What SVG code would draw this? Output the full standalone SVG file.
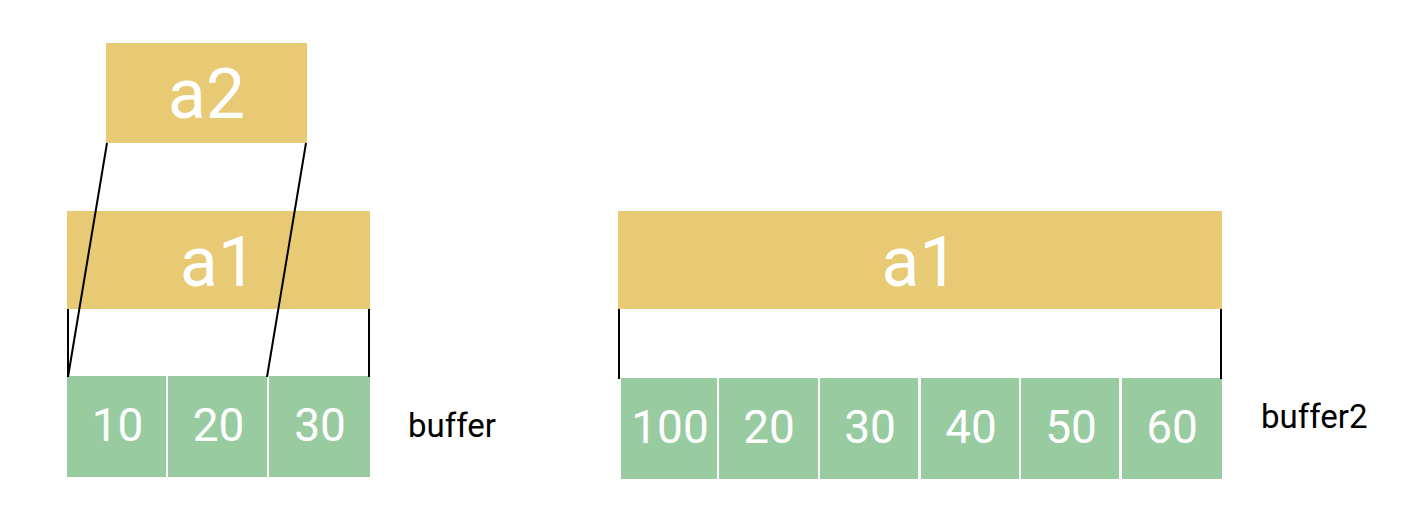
<svg xmlns="http://www.w3.org/2000/svg" width="1426" height="510" viewBox="0 0 1426 510">
<style>
.y{fill:#E8C974}
.g{fill:#98CBA0}
.t{font-family:Roboto,"Liberation Sans",sans-serif;fill:#fff;text-anchor:middle}
.big{font-size:70px}
.num{font-size:46px}
.lbl{font-family:Roboto,"Liberation Sans",sans-serif;fill:#000;font-size:33px}
.ln{stroke:#000;stroke-width:2;fill:none}
</style>
<rect width="1426" height="510" fill="#fff"/>
<g id="a2"><rect class="y" x="106" y="43" width="201" height="100"/><text class="t big" x="206.5" y="118">a2</text></g>
<g id="a1-left"><rect class="y" x="67" y="211" width="303" height="98"/><text class="t big" x="218.5" y="286">a1</text></g>
<g id="buffer">
<rect class="g" x="67" y="376" width="99" height="101"/><text class="t num" x="117.5" y="441">10</text>
<rect class="g" x="168" y="376" width="99" height="101"/><text class="t num" x="218.5" y="441">20</text>
<rect class="g" x="269" y="376" width="101" height="101"/><text class="t num" x="320" y="441">30</text>
</g>
<g id="buffer-label"><text class="lbl" x="408" y="437">buffer</text></g>
<g id="a1-right"><rect class="y" x="618" y="211" width="604" height="98"/><text class="t big" x="920" y="286">a1</text></g>
<g id="buffer2">
<rect class="g" x="621" y="378" width="96" height="101"/><text class="t num" x="670" y="443">100</text>
<rect class="g" x="719" y="378" width="99" height="101"/><text class="t num" x="769" y="443">20</text>
<rect class="g" x="820" y="378" width="98" height="101"/><text class="t num" x="870" y="443">30</text>
<rect class="g" x="921" y="378" width="98" height="101"/><text class="t num" x="971" y="443">40</text>
<rect class="g" x="1021" y="378" width="98" height="101"/><text class="t num" x="1071" y="443">50</text>
<rect class="g" x="1122" y="378" width="100" height="101"/><text class="t num" x="1172" y="443">60</text>
</g>
<g id="buffer2-label"><text class="lbl" x="1261" y="428">buffer2</text></g>
<g id="connectors">
<line class="ln" x1="107" y1="143" x2="68" y2="377"/>
<line class="ln" x1="306" y1="143" x2="267" y2="377"/>
<line class="ln" x1="68" y1="309" x2="68" y2="377"/>
<line class="ln" x1="369" y1="309" x2="369" y2="377"/>
<line class="ln" x1="619" y1="309" x2="619" y2="379"/>
<line class="ln" x1="1221" y1="309" x2="1221" y2="379"/>
</g>
</svg>
